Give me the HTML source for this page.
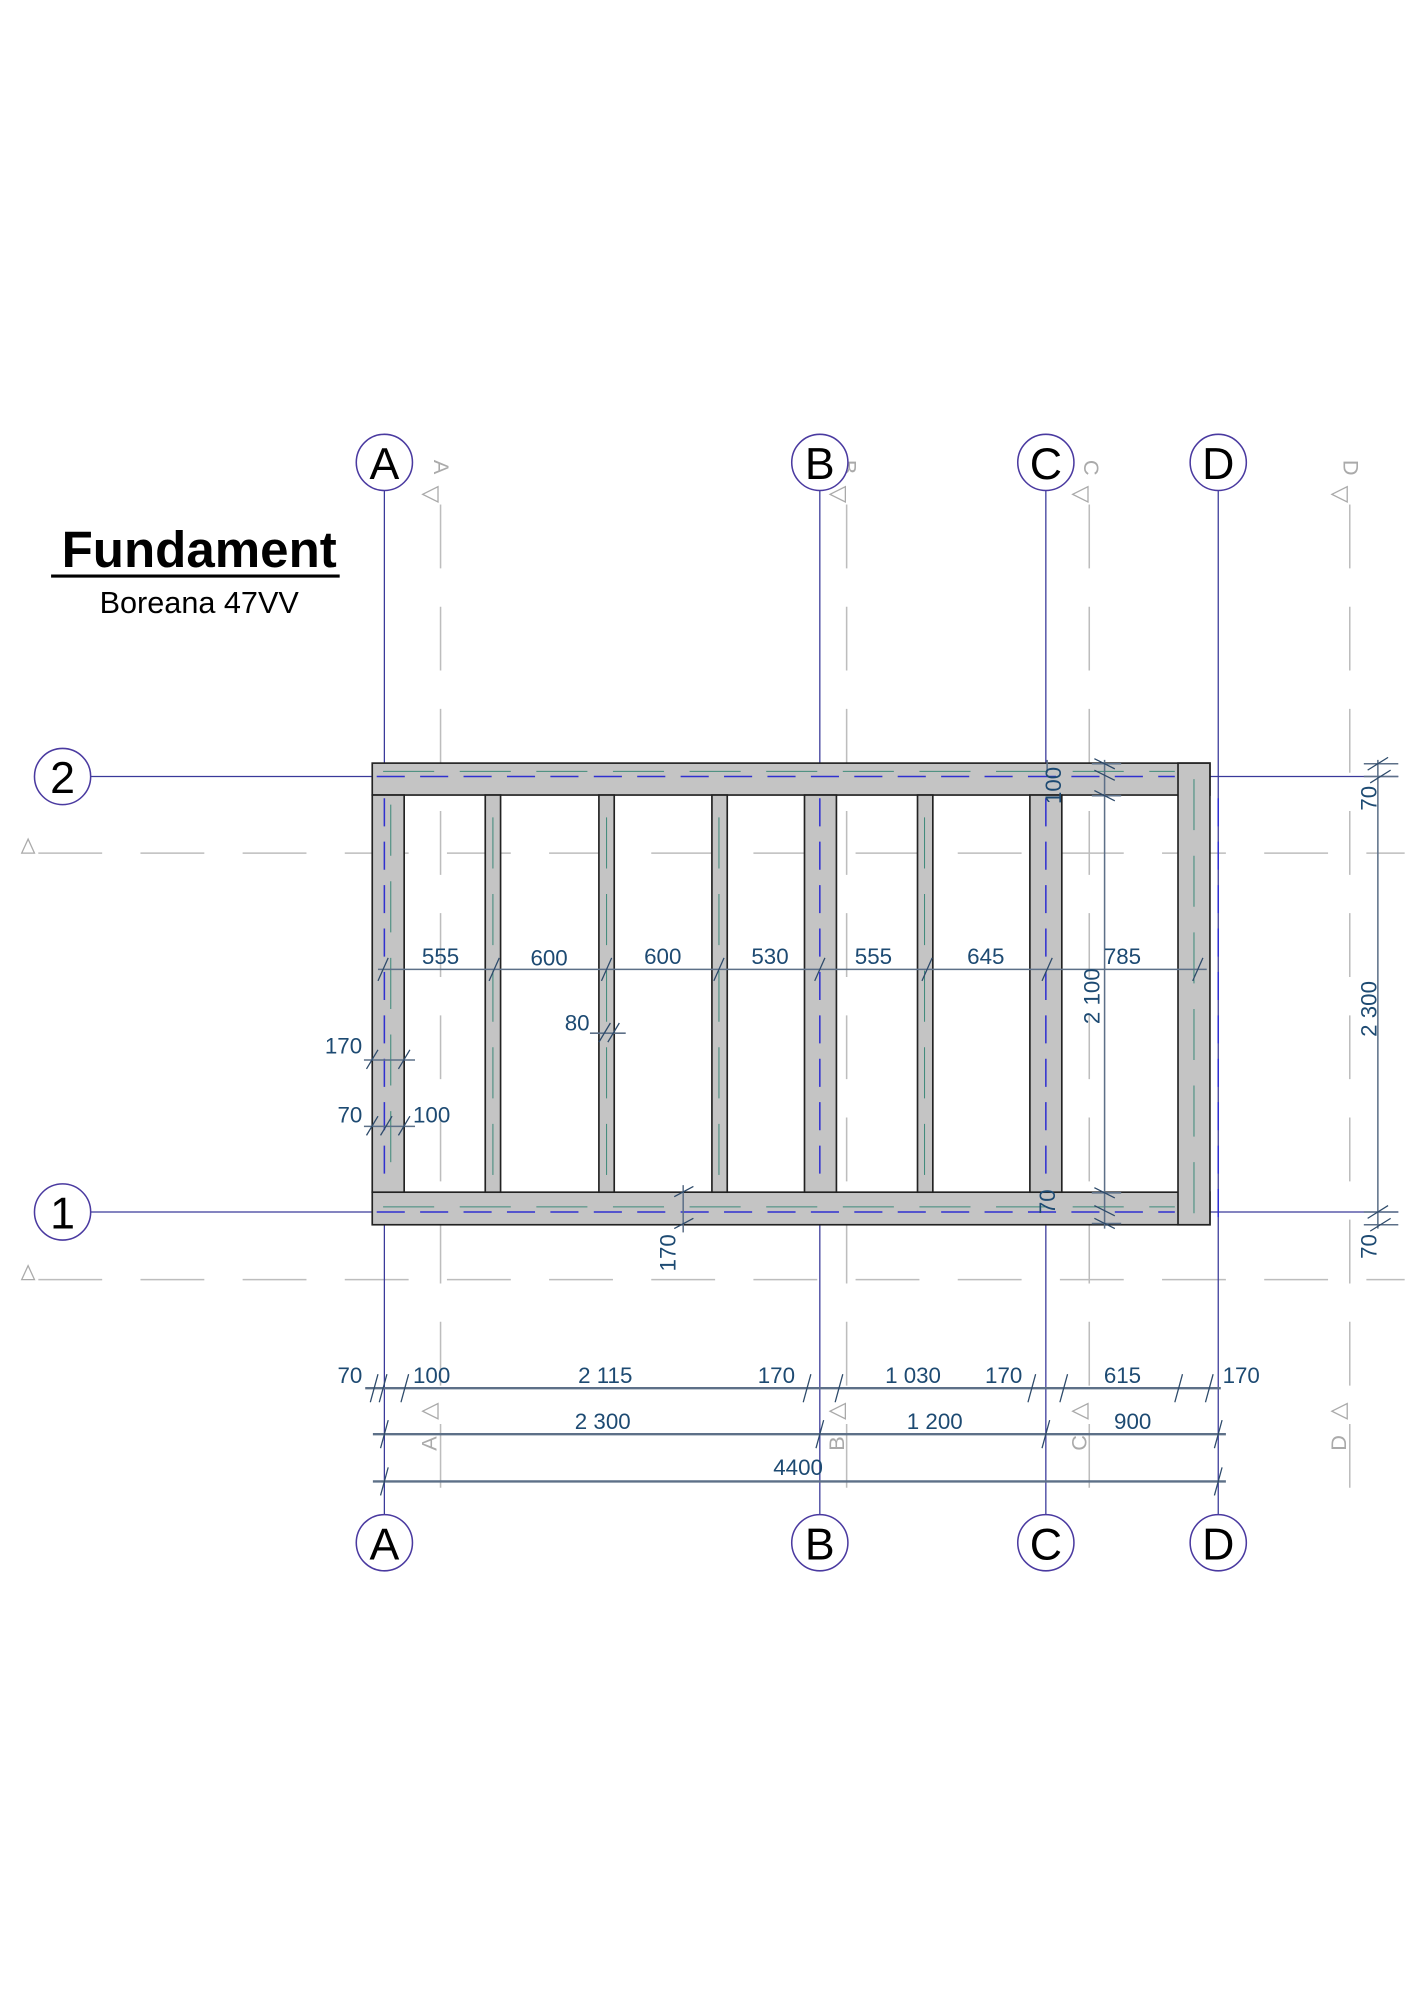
<!DOCTYPE html>
<html><head><meta charset="utf-8"><style>
html,body{margin:0;padding:0;background:#fff;}
svg{display:block;}
text{font-family:"Liberation Sans",sans-serif;}
.d{fill:#1d4a72;font-size:17.5px;}
.g{stroke:#bdbdbd;stroke-width:1.2;fill:none;}
.gd{stroke:#bdbdbd;stroke-width:1.2;stroke-dasharray:50 30;fill:none;}
.gl{stroke:#3a3a9a;stroke-width:1;fill:none;}
.dim{stroke:#5d7088;stroke-width:1.2;fill:none;}
.tk{stroke:#2d4a6a;stroke-width:1;}
.bm{fill:#c4c4c4;stroke:#222;stroke-width:1.3;}
.cd{stroke:#3030d0;stroke-width:1.2;stroke-dasharray:22 12;fill:none;}
.gr{stroke:#3f8a7a;stroke-width:0.8;stroke-dasharray:40 20;fill:none;}
.cl{fill:#fff;stroke:#4a3aa0;stroke-width:1.2;}
.ct{font-size:35px;fill:#000;text-anchor:middle;}
.gt{fill:#aaa;font-size:17px;}
</style></head><body>
<svg width="1414" height="2000" viewBox="0 0 1107.3 1566" xmlns="http://www.w3.org/2000/svg">
<g class="gd">
<line x1="345" y1="395" x2="345" y2="1190"/>
<line x1="663" y1="395" x2="663" y2="1190"/>
<line x1="853" y1="395" x2="853" y2="1190"/>
<line x1="1057" y1="395" x2="1057" y2="1190"/>
<line x1="30" y1="668" x2="1100" y2="668"/>
<line x1="30" y1="1002" x2="1100" y2="1002"/>
</g>
<g fill="none" stroke="#aaa" stroke-width="1">
<path d="M331,387 l12,-6 v12 z"/><path d="M650,387 l12,-6 v12 z"/><path d="M840,387 l12,-6 v12 z"/><path d="M1043,387 l12,-6 v12 z"/>
<path d="M22,657 l-5,11 h10 z"/><path d="M22,991 l-5,11 h10 z"/>
<path d="M331,1105 l12,-6 v12 z"/><path d="M650,1105 l12,-6 v12 z"/><path d="M840,1105 l12,-6 v12 z"/><path d="M1043,1105 l12,-6 v12 z"/>
</g>
<g class="gt">
<text transform="translate(340,360) rotate(90)">A</text>
<text transform="translate(659,360) rotate(90)">B</text>
<text transform="translate(849,360) rotate(90)">C</text>
<text transform="translate(1052,360) rotate(90)">D</text>
<text transform="translate(342,1136) rotate(-90)">A</text>
<text transform="translate(661,1136) rotate(-90)">B</text>
<text transform="translate(851,1136) rotate(-90)">C</text>
<text transform="translate(1054,1136) rotate(-90)">D</text>
</g>
<g class="gl">
<line x1="301" y1="384" x2="301" y2="1186"/>
<line x1="642" y1="384" x2="642" y2="1186"/>
<line x1="819" y1="384" x2="819" y2="1186"/>
<line x1="954" y1="384" x2="954" y2="1186"/>
<line x1="71" y1="608" x2="1095" y2="608"/>
<line x1="71" y1="949" x2="1095" y2="949"/>
</g>
<rect class="bm" x="291.5" y="597.5" width="656" height="25"/>
<rect class="bm" x="291.5" y="933.5" width="656" height="25.5"/>
<rect class="bm" x="291.5" y="622.5" width="25" height="311"/>
<rect class="bm" x="922.5" y="597.5" width="25" height="361.5"/>
<rect class="bm" x="380" y="622.5" width="12" height="311"/>
<rect class="bm" x="469" y="622.5" width="12" height="311"/>
<rect class="bm" x="557.5" y="622.5" width="12" height="311"/>
<rect class="bm" x="630" y="622.5" width="25" height="311"/>
<rect class="bm" x="718.5" y="622.5" width="12" height="311"/>
<rect class="bm" x="806.5" y="622.5" width="25" height="311"/>
<g class="cd">
<line x1="295" y1="608" x2="920" y2="608"/>
<line x1="295" y1="949" x2="920" y2="949"/>
<line x1="301" y1="625" x2="301" y2="930"/>
<line x1="642" y1="625" x2="642" y2="930"/>
<line x1="819" y1="625" x2="819" y2="930"/>
<line x1="954" y1="625" x2="954" y2="960"/>
</g>
<g class="gr">
<line x1="300" y1="604" x2="920" y2="604"/>
<line x1="300" y1="945" x2="920" y2="945"/>
<line x1="386" y1="640" x2="386" y2="930"/>
<line x1="475" y1="640" x2="475" y2="930"/>
<line x1="563" y1="640" x2="563" y2="930"/>
<line x1="724" y1="640" x2="724" y2="930"/>
<line x1="935" y1="610" x2="935" y2="955"/>
<line x1="306" y1="630" x2="306" y2="930"/>
</g>
<g>
<circle class="cl" cx="301" cy="362" r="22"/><text class="ct" x="301" y="375">A</text>
<circle class="cl" cx="642" cy="362" r="22"/><text class="ct" x="642" y="375">B</text>
<circle class="cl" cx="819" cy="362" r="22"/><text class="ct" x="819" y="375">C</text>
<circle class="cl" cx="954" cy="362" r="22"/><text class="ct" x="954" y="375">D</text>
<circle class="cl" cx="301" cy="1208" r="22"/><text class="ct" x="301" y="1221">A</text>
<circle class="cl" cx="642" cy="1208" r="22"/><text class="ct" x="642" y="1221">B</text>
<circle class="cl" cx="819" cy="1208" r="22"/><text class="ct" x="819" y="1221">C</text>
<circle class="cl" cx="954" cy="1208" r="22"/><text class="ct" x="954" y="1221">D</text>
<circle class="cl" cx="49" cy="608" r="22"/><text class="ct" x="49" y="621">2</text>
<circle class="cl" cx="49" cy="949" r="22"/><text class="ct" x="49" y="962">1</text>
</g>
<text x="156" y="444" text-anchor="middle" font-size="40" font-weight="bold">Fundament</text>
<line x1="40" y1="451" x2="266" y2="451" stroke="#000" stroke-width="2.5"/>
<text x="156" y="480" text-anchor="middle" font-size="24">Boreana 47VV</text>
<g class="dim">
<line x1="296" y1="759" x2="945" y2="759"/>
<line x1="865" y1="595" x2="865" y2="962"/>
<line x1="1079" y1="595" x2="1079" y2="962"/>
<line x1="285" y1="830" x2="325" y2="830"/>
<line x1="285" y1="882" x2="325" y2="882"/>
<line x1="462" y1="809" x2="490" y2="809"/>
<line x1="535" y1="928" x2="535" y2="965"/>
<line x1="820" y1="595" x2="820" y2="605"/>
<line x1="1068" y1="598" x2="1095" y2="598"/>
<line x1="1068" y1="608" x2="1095" y2="608"/>
<line x1="1068" y1="949" x2="1095" y2="949"/>
<line x1="1068" y1="959" x2="1095" y2="959"/>
<line x1="855" y1="598" x2="878" y2="598"/>
<line x1="855" y1="623" x2="878" y2="623"/>
<line x1="855" y1="934" x2="878" y2="934"/>
<line x1="855" y1="958" x2="878" y2="958"/>
<line x1="286" y1="1087" x2="956" y2="1087" stroke-width="1.8"/>
<line x1="292" y1="1123" x2="960" y2="1123" stroke-width="1.8"/>
<line x1="292" y1="1160" x2="960" y2="1160" stroke-width="1.8"/>
</g>
<g class="tk">
<line x1="296" y1="768" x2="304" y2="750"/><line x1="383" y1="768" x2="391" y2="750"/><line x1="471" y1="768" x2="479" y2="750"/><line x1="559" y1="768" x2="567" y2="750"/><line x1="638" y1="768" x2="646" y2="750"/><line x1="722" y1="768" x2="730" y2="750"/><line x1="816" y1="768" x2="824" y2="750"/><line x1="934" y1="768" x2="942" y2="750"/>
<line x1="287" y1="837" x2="296" y2="822"/><line x1="312" y1="837" x2="321" y2="822"/>
<line x1="287" y1="889" x2="296" y2="874"/><line x1="298" y1="889" x2="307" y2="874"/><line x1="312" y1="889" x2="321" y2="874"/>
<line x1="469" y1="816" x2="478" y2="801"/><line x1="476" y1="816" x2="485" y2="801"/>
<line x1="528" y1="937" x2="543" y2="929"/><line x1="528" y1="962" x2="543" y2="954"/>
<line x1="857" y1="594" x2="873" y2="602"/><line x1="857" y1="603" x2="873" y2="611"/><line x1="857" y1="619" x2="873" y2="627"/>
<line x1="857" y1="930" x2="873" y2="938"/><line x1="857" y1="944" x2="873" y2="952"/><line x1="857" y1="954" x2="873" y2="962"/>
<line x1="1071" y1="603" x2="1087" y2="593"/><line x1="1073" y1="613" x2="1089" y2="603"/>
<line x1="1071" y1="954" x2="1087" y2="944"/><line x1="1073" y1="964" x2="1089" y2="954"/>
<line x1="290" y1="1098" x2="296" y2="1076"/><line x1="297" y1="1098" x2="303" y2="1076"/><line x1="314" y1="1098" x2="320" y2="1076"/>
<line x1="629" y1="1098" x2="635" y2="1076"/><line x1="654" y1="1098" x2="660" y2="1076"/>
<line x1="805" y1="1098" x2="811" y2="1076"/><line x1="830" y1="1098" x2="836" y2="1076"/>
<line x1="920" y1="1098" x2="926" y2="1076"/><line x1="944" y1="1098" x2="950" y2="1076"/>
<line x1="298" y1="1134" x2="304" y2="1112"/><line x1="639" y1="1134" x2="645" y2="1112"/><line x1="816" y1="1134" x2="822" y2="1112"/><line x1="951" y1="1134" x2="957" y2="1112"/>
<line x1="298" y1="1171" x2="304" y2="1149"/><line x1="951" y1="1171" x2="957" y2="1149"/>
</g>
<g class="d">
<text x="345" y="755" text-anchor="middle">555</text>
<text x="430" y="756" text-anchor="middle">600</text>
<text x="519" y="755" text-anchor="middle">600</text>
<text x="603" y="755" text-anchor="middle">530</text>
<text x="684" y="755" text-anchor="middle">555</text>
<text x="772" y="755" text-anchor="middle">645</text>
<text x="879" y="755" text-anchor="middle">785</text>
<text x="269" y="825" text-anchor="middle">170</text>
<text x="274" y="879" text-anchor="middle">70</text>
<text x="338" y="879" text-anchor="middle">100</text>
<text x="452" y="807" text-anchor="middle">80</text>
<text transform="translate(831,615) rotate(-90)" text-anchor="middle">100</text>
<text transform="translate(826,941) rotate(-90)" text-anchor="middle">70</text>
<text transform="translate(861,780) rotate(-90)" text-anchor="middle">2 100</text>
<text transform="translate(1078,790) rotate(-90)" text-anchor="middle">2 300</text>
<text transform="translate(1078,625) rotate(-90)" text-anchor="middle">70</text>
<text transform="translate(1078,976) rotate(-90)" text-anchor="middle">70</text>
<text transform="translate(529,981) rotate(-90)" text-anchor="middle">170</text>
<text x="274" y="1083" text-anchor="middle">70</text>
<text x="338" y="1083" text-anchor="middle">100</text>
<text x="474" y="1083" text-anchor="middle">2 115</text>
<text x="608" y="1083" text-anchor="middle">170</text>
<text x="715" y="1083" text-anchor="middle">1 030</text>
<text x="786" y="1083" text-anchor="middle">170</text>
<text x="879" y="1083" text-anchor="middle">615</text>
<text x="972" y="1083" text-anchor="middle">170</text>
<text x="472" y="1119" text-anchor="middle">2 300</text>
<text x="732" y="1119" text-anchor="middle">1 200</text>
<text x="887" y="1119" text-anchor="middle">900</text>
<text x="625" y="1155" text-anchor="middle">4400</text>
</g>
</svg>
</body></html>
